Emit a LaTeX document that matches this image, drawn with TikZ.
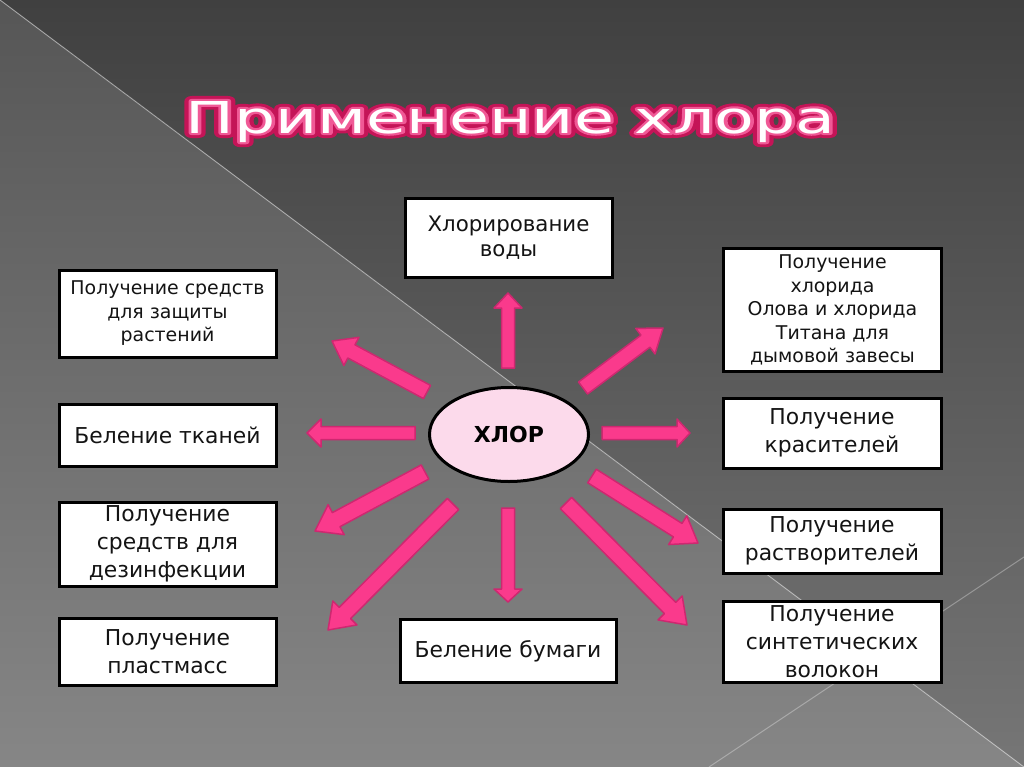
\documentclass[tikz,border=0pt]{standalone}
\usepackage{fontspec}
\setmainfont{DejaVu Sans}
\usetikzlibrary{calc,shapes.geometric}
\newlength\pxu
\setlength\pxu{0.75pt}
\definecolor{arrowfill}{RGB}{250,58,140}
\definecolor{arrowline}{RGB}{205,40,112}
\definecolor{ellfill}{RGB}{252,218,235}
\definecolor{titleouter}{RGB}{196,20,86}
\definecolor{titlemid}{RGB}{240,90,150}
\definecolor{boxtext}{RGB}{20,20,20}
\definecolor{bgA}{RGB}{64,64,64}
\definecolor{bgB}{RGB}{118,118,118}
\definecolor{bgC}{RGB}{86,86,86}
\definecolor{bgD}{RGB}{134,134,134}
% outlined text: fill colour is the current colour, stroke given as r g b, width in bp
\newcommand\strokedtext[3]{\special{pdf:literal direct 2 Tr #2 w 1 j #1 RG}#3\special{pdf:literal direct 0 Tr}}
% tail, tip, half shaft, half head, head length (px)
\newcommand\blockarrow[5]{%
  \coordinate (#1-b) at ($(#2)!#5\pxu!(#1)$);
  \draw[arrowstyle] ($(#1)!#3\pxu!90:(#2)$) -- ($(#1-b)!#3\pxu!90:(#2)$)
    -- ($(#1-b)!#4\pxu!90:(#2)$) -- (#2) -- ($(#1-b)!#4\pxu!-90:(#2)$)
    -- ($(#1-b)!#3\pxu!-90:(#2)$) -- ($(#1)!#3\pxu!-90:(#2)$) -- cycle;}
\newcommand\titlestr{\resizebox{650\pxu}{32\pxu}{Применение хлора}}
\begin{document}
\begin{tikzpicture}[x=\pxu,y=-\pxu,
  box/.style={draw=black, line width=3\pxu, fill=white, inner sep=0pt, align=center, text=boxtext},
  smalltxt/.style={font=\fontsize{14.2}{17.6}\selectfont},
  midtxt/.style={font=\fontsize{16}{19}\selectfont},
  bigtxt/.style={font=\fontsize{16.4}{21}\selectfont},
  titletxt/.style={font=\fontsize{33}{40}\selectfont, inner sep=0pt, anchor=base},
  arrowstyle/.style={fill=arrowfill, draw=arrowline, line width=1.5\pxu, line join=round}]
\useasboundingbox (0,0) rectangle (1024,767);
% background
\shade[top color=bgA, bottom color=bgB] (0,0) -- (1024,0) -- (1024,767) -- cycle;
\shade[top color=bgC, bottom color=bgD] (0,0) -- (1024,767) -- (0,767) -- cycle;
\draw[white, opacity=0.4, line width=1\pxu] (0,0) -- (1024,767);
\draw[white, opacity=0.3, line width=1\pxu] (1024,557) -- (709,767);
% title: crimson outer rim, pink inner rim, white letters
\node[titletxt, text=titleouter] (titlerim) at (510.5,133)
  {\strokedtext{0.77 0.08 0.34}{7.5}{\titlestr}};
\node[titletxt, text=titlemid] (titleedge) at (510.5,133)
  {\strokedtext{0.94 0.35 0.59}{3.2}{\titlestr}};
\node[titletxt, text=white] (title) at (510.5,133) {\titlestr};
% center
\node[ellipse, draw=black, line width=3\pxu, fill=ellfill, minimum width=159\pxu, minimum height=94\pxu,
  inner sep=0pt, font=\bfseries\fontsize{16.5}{20}\selectfont, text=black] (chlor) at (509,434.5) {ХЛОР};
% boxes
\node[box, midtxt, minimum width=207\pxu, minimum height=79\pxu] (water) at (508.5,237.5) {Хлорирование\\воды};
\node[box, smalltxt, minimum width=217\pxu, minimum height=87\pxu] (plants) at (167.5,313.5) {Получение средств\\для защиты\\растений};
\node[box, bigtxt, minimum width=217\pxu, minimum height=62\pxu] (fabric) at (167.5,435) {Беление тканей};
\node[box, bigtxt, minimum width=217\pxu, minimum height=84\pxu] (disinf) at (167.5,544) {Получение\\средств для\\дезинфекции};
\node[box, bigtxt, minimum width=217\pxu, minimum height=67\pxu] (plastic) at (167.5,651.5) {Получение\\пластмасс};
\node[box, bigtxt, minimum width=216\pxu, minimum height=63\pxu] (paper) at (508,651) {Беление бумаги};
\node[box, smalltxt, minimum width=218\pxu, minimum height=123\pxu] (tin) at (832.5,310) {Получение\\хлорида\\Олова и хлорида\\Титана для\\дымовой завесы};
\node[box, bigtxt, minimum width=218\pxu, minimum height=70\pxu] (dyes) at (832,433) {Получение\\красителей};
\node[box, bigtxt, minimum width=218\pxu, minimum height=64\pxu] (solv) at (832,541) {Получение\\растворителей};
\node[box, bigtxt, minimum width=218\pxu, minimum height=81\pxu] (fibre) at (832,641.5) {Получение\\синтетических\\волокон};
% arrow ends
\coordinate (upT) at (508,368);   \coordinate (upH) at (508,293);
\coordinate (ulT) at (427,392);   \coordinate (ulH) at (332,341);
\coordinate (lT) at (415,433);    \coordinate (lH) at (307,433);
\coordinate (dlT) at (425,472);   \coordinate (dlH) at (315,531);
\coordinate (dllT) at (453,504);  \coordinate (dllH) at (328,630);
\coordinate (dT) at (508,508);    \coordinate (dH) at (508,602);
\coordinate (drlT) at (566,503);  \coordinate (drlH) at (687,625);
\coordinate (drT) at (592,476);   \coordinate (drH) at (698,543);
\coordinate (rT) at (602,433);    \coordinate (rH) at (690,433);
\coordinate (urT) at (583,388);   \coordinate (urH) at (663,328);
% arrows
\blockarrow{upT}{upH}{6.5}{14}{15}
\blockarrow{ulT}{ulH}{7.5}{16}{22}
\blockarrow{lT}{lH}{6.5}{14}{14}
\blockarrow{dlT}{dlH}{8}{17}{24}
\blockarrow{dllT}{dllH}{8}{17}{24}
\blockarrow{dT}{dH}{6.5}{14}{13}
\blockarrow{drlT}{drlH}{8}{17}{24}
\blockarrow{drT}{drH}{8}{17}{24}
\blockarrow{rT}{rH}{6.5}{14}{13}
\blockarrow{urT}{urH}{7.5}{16}{22}
\end{tikzpicture}
\end{document}
